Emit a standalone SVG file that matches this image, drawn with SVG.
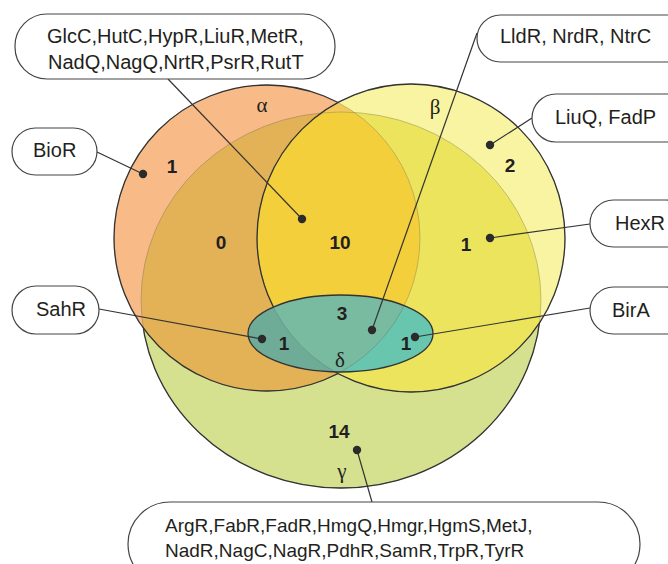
<svg xmlns="http://www.w3.org/2000/svg" width="668" height="564" viewBox="0 0 668 564">
<style>
.box{fill:#fff;stroke:#444;stroke-width:1.2}
.lbl{font-family:"Liberation Sans",Arial,sans-serif;font-size:20px;fill:#231f20}
.num{font-family:"Liberation Sans",Arial,sans-serif;font-size:19px;font-weight:bold;fill:#231f20;text-anchor:middle}
.gr{font-family:"Liberation Serif","Times New Roman",serif;font-size:21px;fill:#231f20;text-anchor:middle}
.dark{fill:none;stroke:#333;stroke-width:1.3}
.faint{fill:none;stroke:#555;stroke-opacity:0.3;stroke-width:1}
.conn line{stroke:#333;stroke-width:1.2}
.dot{fill:#2b2b2b}
</style>
<defs>
<circle id="cA" cx="267" cy="238" r="153"/>
<circle id="cB" cx="411" cy="238" r="154"/>
<ellipse id="eG" cx="341" cy="300" rx="200" ry="188"/>
<ellipse id="eD" cx="340.5" cy="333.5" rx="92.5" ry="38.5"/>
<clipPath id="clA"><use href="#cA"/></clipPath>
<clipPath id="clB"><use href="#cB"/></clipPath>
<mask id="mOutAB" maskUnits="userSpaceOnUse" x="0" y="0" width="668" height="564"><rect width="668" height="564" fill="#fff"/><use href="#cA" fill="#000"/><use href="#cB" fill="#000"/></mask>
<mask id="mOutBD" maskUnits="userSpaceOnUse" x="0" y="0" width="668" height="564"><rect width="668" height="564" fill="#fff"/><use href="#cB" fill="#000"/><use href="#eD" fill="#000"/></mask>
<mask id="mOutD" maskUnits="userSpaceOnUse" x="0" y="0" width="668" height="564"><rect width="668" height="564" fill="#fff"/><use href="#eD" fill="#000"/></mask>
</defs>

<g id="venn">
<g id="set-gamma"><use href="#eG" fill="#D5E18F"/></g>
<g id="set-alpha"><use href="#cA" fill="#F8BB88"/></g>
<g id="set-beta"><use href="#cB" fill="#F9F4A2"/></g>
<g clip-path="url(#clA)"><use href="#eG" fill="#E3B257"/><use href="#cB" fill="#F2C95A"/></g>
<g clip-path="url(#clB)"><use href="#eG" fill="#EBE45C"/></g>
<g clip-path="url(#clA)"><g clip-path="url(#clB)"><use href="#eG" fill="#F3CF3C"/></g></g>
<g id="set-delta">
<use href="#eD" fill="#6EBBA4"/>
<g clip-path="url(#clA)"><use href="#eD" fill="#6EAC98"/></g>
<g clip-path="url(#clB)"><use href="#eD" fill="#68C6AF"/></g>
<g clip-path="url(#clA)"><g clip-path="url(#clB)"><use href="#eD" fill="#78BBA0"/></g></g>
</g>
<g id="outlines">
<use href="#eG" class="faint"/>
<use href="#cA" class="faint"/>
<use href="#cB" class="faint"/>
<use href="#eG" class="dark" mask="url(#mOutAB)"/>
<use href="#cA" class="dark" mask="url(#mOutBD)"/>
<use href="#cB" class="dark" mask="url(#mOutD)"/>
<use href="#eD" class="dark"/>
</g>
<g id="counts">
<text class="num" x="172" y="173">1</text>
<text class="num" x="221" y="249">0</text>
<text class="num" x="340" y="249">10</text>
<text class="num" x="466" y="251">1</text>
<text class="num" x="510" y="172">2</text>
<text class="num" x="342" y="320">3</text>
<text class="num" x="284" y="350">1</text>
<text class="num" x="406" y="350">1</text>
<text class="num" x="339" y="438">14</text>
</g>
<g id="greek">
<text class="gr" x="262" y="112">α</text>
<text class="gr" x="435" y="114">β</text>
<text class="gr" x="340" y="367">δ</text>
<text class="gr" x="342" y="478">γ</text>
</g>
</g>

<g id="connectors" class="conn">
<line x1="97" y1="152" x2="143" y2="174"/>
<line x1="168" y1="79" x2="302" y2="219"/>
<line x1="477" y1="33" x2="372" y2="330"/>
<line x1="532" y1="118" x2="490" y2="145"/>
<line x1="590" y1="224" x2="490" y2="238"/>
<line x1="590" y1="308" x2="415" y2="337"/>
<line x1="99" y1="309" x2="262" y2="339"/>
<line x1="372" y1="502" x2="357" y2="450"/>
<circle class="dot" cx="143" cy="174" r="4.2"/>
<circle class="dot" cx="302" cy="219" r="4.2"/>
<circle class="dot" cx="372" cy="330" r="4.2"/>
<circle class="dot" cx="490" cy="145" r="4.2"/>
<circle class="dot" cx="490" cy="238" r="4.2"/>
<circle class="dot" cx="415" cy="337" r="4.2"/>
<circle class="dot" cx="262" cy="339" r="4.2"/>
<circle class="dot" cx="357" cy="450" r="4.2"/>
</g>

<g id="label-alpha-beta">
<rect class="box" x="15" y="14" width="320" height="65" rx="32" ry="32"/>
<text class="lbl" x="47" y="43">GlcC,HutC,HypR,LiuR,MetR,</text>
<text class="lbl" x="48" y="69">NadQ,NagQ,NrtR,PsrR,RutT</text>
</g>
<g id="label-bior">
<rect class="box" x="12" y="128" width="85" height="47" rx="23.5" ry="23.5"/>
<text class="lbl" x="33" y="157">BioR</text>
</g>
<g id="label-lldr">
<rect class="box" x="477" y="15" width="220" height="47" rx="23.5" ry="23.5"/>
<text class="lbl" x="500" y="43">LldR, NrdR, NtrC</text>
</g>
<g id="label-liuq">
<rect class="box" x="532" y="94" width="160" height="48" rx="24" ry="24"/>
<text class="lbl" x="555" y="124">LiuQ, FadP</text>
</g>
<g id="label-hexr">
<rect class="box" x="590" y="200" width="100" height="47" rx="23.5" ry="23.5"/>
<text class="lbl" x="615" y="230">HexR</text>
</g>
<g id="label-bira">
<rect class="box" x="590" y="287" width="100" height="47" rx="23.5" ry="23.5"/>
<text class="lbl" x="612" y="317">BirA</text>
</g>
<g id="label-sahr">
<rect class="box" x="12" y="286" width="87" height="48" rx="24" ry="24"/>
<text class="lbl" x="36" y="316">SahR</text>
</g>
<g id="label-gamma">
<rect class="box" x="128" y="502" width="512" height="84" rx="42" ry="42"/>
<text class="lbl" x="165" y="532" style="font-size:19px">ArgR,FabR,FadR,HmgQ,Hmgr,HgmS,MetJ,</text>
<text class="lbl" x="165" y="557" style="font-size:19px">NadR,NagC,NagR,PdhR,SamR,TrpR,TyrR</text>
</g>
</svg>
